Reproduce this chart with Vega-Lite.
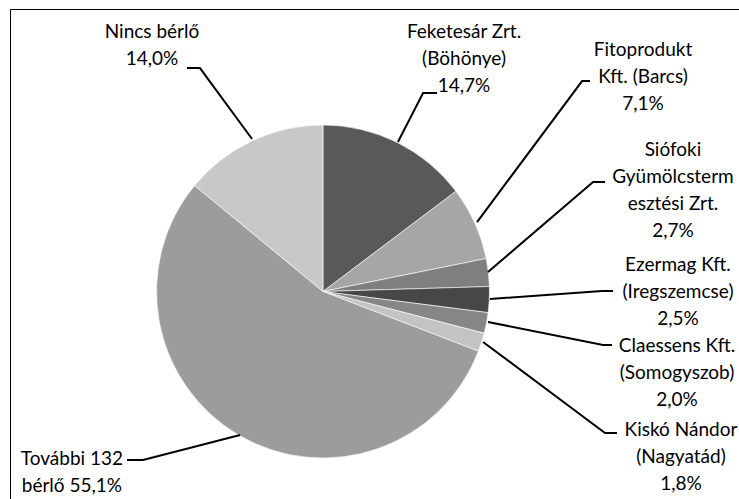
{
  "$schema": "https://vega.github.io/schema/vega-lite/v6.json",
  "width": 729,
  "height": 490,
  "autosize": {"type": "none"},
  "padding": {"left": 10, "top": 9, "right": 0, "bottom": 0},
  "background": "#ffffff",
  "config": {"view": {"stroke": "#000000", "strokeWidth": 1}},
  "datasets": {
    "slices": [
      {"name": "Feketesár Zrt. (Böhönye)", "value": 14.7, "order": 1},
      {"name": "Fitoprodukt Kft. (Barcs)", "value": 7.1, "order": 2},
      {"name": "Siófoki Gyümölcstermesztési Zrt.", "value": 2.7, "order": 3},
      {"name": "Ezermag Kft. (Iregszemcse)", "value": 2.5, "order": 4},
      {"name": "Claessens Kft. (Somogyszob)", "value": 2.0, "order": 5},
      {"name": "Kiskó Nándor (Nagyatád)", "value": 1.8, "order": 6},
      {"name": "További 132 bérlő", "value": 55.1, "order": 7},
      {"name": "Nincs bérlő", "value": 14.0, "order": 8}
    ],
    "leaders": [
      {"label": "Nincs", "seq": 1, "u": -0.426, "v": 0.916},
      {"label": "Nincs", "seq": 2, "u": -0.739, "v": 1.342},
      {"label": "Nincs", "seq": 3, "u": -0.817, "v": 1.342},
      {"label": "Fekete", "seq": 1, "u": 0.450, "v": 0.898},
      {"label": "Fekete", "seq": 2, "u": 0.601, "v": 1.192},
      {"label": "Fekete", "seq": 3, "u": 0.685, "v": 1.192},
      {"label": "Fito", "seq": 1, "u": 0.925, "v": 0.417},
      {"label": "Fito", "seq": 2, "u": 1.556, "v": 1.264},
      {"label": "Fito", "seq": 3, "u": 1.604, "v": 1.264},
      {"label": "Sio", "seq": 1, "u": 0.991, "v": 0.117},
      {"label": "Sio", "seq": 2, "u": 1.622, "v": 0.658},
      {"label": "Sio", "seq": 3, "u": 1.694, "v": 0.658},
      {"label": "Ezer", "seq": 1, "u": 1.003, "v": -0.045},
      {"label": "Ezer", "seq": 2, "u": 1.676, "v": 0.003},
      {"label": "Ezer", "seq": 3, "u": 1.742, "v": 0.003},
      {"label": "Claes", "seq": 1, "u": 0.991, "v": -0.183},
      {"label": "Claes", "seq": 2, "u": 1.682, "v": -0.321},
      {"label": "Claes", "seq": 3, "u": 1.736, "v": -0.321},
      {"label": "Kisko", "seq": 1, "u": 0.961, "v": -0.303},
      {"label": "Kisko", "seq": 2, "u": 1.694, "v": -0.850},
      {"label": "Kisko", "seq": 3, "u": 1.766, "v": -0.850},
      {"label": "Tovabbi", "seq": 1, "u": -0.498, "v": -0.862},
      {"label": "Tovabbi", "seq": 2, "u": -1.081, "v": -1.012},
      {"label": "Tovabbi", "seq": 3, "u": -1.177, "v": -1.012}
    ],
    "labels": [
      {"text": "Nincs bérlő\n14,0%", "u": -1.027, "v": 1.5586},
      {"text": "Feketesár Zrt.\n(Böhönye)\n14,7%", "u": 0.847, "v": 1.5586},
      {"text": "Fitoprodukt\nKft. (Barcs)\n7,1%", "u": 1.922, "v": 1.4505},
      {"text": "Siófoki\nGyümölcsterm\nesztési Zrt.\n2,7%", "u": 2.102, "v": 0.8498},
      {"text": "Ezermag Kft.\n(Iregszemcse)\n2,5%", "u": 2.132, "v": 0.1592},
      {"text": "Claessens Kft.\n(Somogyszob)\n2,0%", "u": 2.126, "v": -0.3273},
      {"text": "Kiskó Nándor\n(Nagyatád)\n1,8%", "u": 2.150, "v": -0.8318},
      {"text": "További 132\nbérlő 55,1%", "u": -1.508, "v": -1.0060}
    ]
  },
  "layer": [
    {
      "data": {"name": "slices"},
      "mark": {"type": "arc", "radius": 166.5, "stroke": "#ffffff", "strokeWidth": 0.6},
      "encoding": {
        "theta": {"field": "value", "type": "quantitative", "stack": true},
        "order": {"field": "order", "type": "quantitative"},
        "color": {
          "field": "name",
          "type": "nominal",
          "legend": null,
          "scale": {
            "domain": ["Feketesár Zrt. (Böhönye)", "Fitoprodukt Kft. (Barcs)", "Siófoki Gyümölcstermesztési Zrt.", "Ezermag Kft. (Iregszemcse)", "Claessens Kft. (Somogyszob)", "Kiskó Nándor (Nagyatád)", "További 132 bérlő", "Nincs bérlő"],
            "range": ["#595959", "#a6a6a6", "#7f7f7f", "#474747", "#868686", "#c3c3c3", "#9c9c9c", "#c8c8c8"]
          }
        },
        "x": {"datum": 0, "type": "quantitative", "scale": {"domain": [-1.8799, 2.4985], "nice": false, "zero": false}, "axis": null},
        "y": {"datum": 0, "type": "quantitative", "scale": {"domain": [-1.2462, 1.6967], "nice": false, "zero": false}, "axis": null}
      }
    },
    {
      "data": {"name": "leaders"},
      "mark": {"type": "line", "color": "#000000", "strokeWidth": 2},
      "encoding": {
        "x": {"field": "u", "type": "quantitative", "scale": {"domain": [-1.8799, 2.4985], "nice": false, "zero": false}, "axis": null},
        "y": {"field": "v", "type": "quantitative", "scale": {"domain": [-1.2462, 1.6967], "nice": false, "zero": false}, "axis": null},
        "detail": {"field": "label", "type": "nominal"},
        "order": {"field": "seq", "type": "quantitative"}
      }
    },
    {
      "data": {"name": "labels"},
      "mark": {"type": "text", "font": "Lato", "fontSize": 19, "lineHeight": 27, "lineBreak": "\n", "align": "center", "baseline": "middle", "color": "#000000"},
      "encoding": {
        "x": {"field": "u", "type": "quantitative", "scale": {"domain": [-1.8799, 2.4985], "nice": false, "zero": false}, "axis": null},
        "y": {"field": "v", "type": "quantitative", "scale": {"domain": [-1.2462, 1.6967], "nice": false, "zero": false}, "axis": null},
        "text": {"field": "text", "type": "nominal"}
      }
    }
  ]
}
